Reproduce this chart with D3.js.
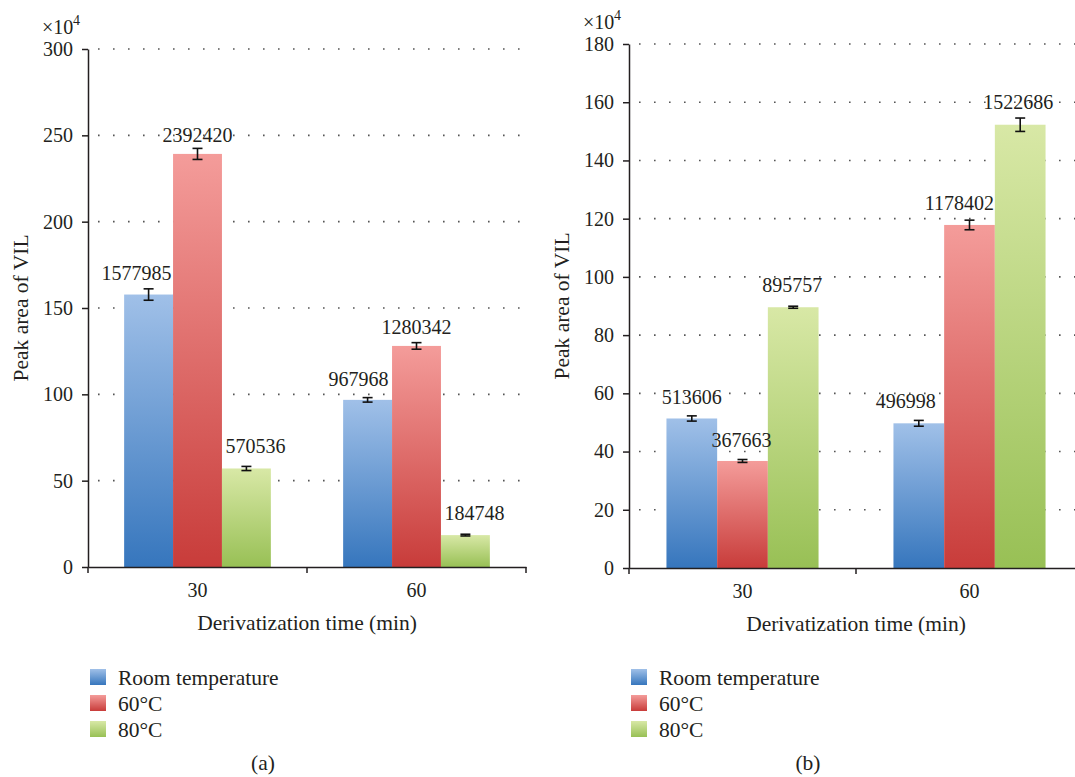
<!DOCTYPE html>
<html>
<head>
<meta charset="utf-8">
<script src="https://cdn.jsdelivr.net/npm/d3@7"></script>
<style>
  body { margin: 0; background: #fff; }
  text { font-family: "Liberation Serif", "Times New Roman", serif; fill: #231f20; }
</style>
</head>
<body>
<div id="chart"></div>
<script>
// data
const categories = ['30', '60']
const series = ['Room temperature', '60°C', '80°C']

// values per series, one entry per category
const values_a = [[1577985, 967968], [2392420, 1280342], [570536, 184748]]
const errors_a = [[33000, 13000], [32000, 19000], [12000, 5000]]
const ticks_a = [0, 50, 100, 150, 200, 250, 300]

const values_b = [[513606, 496998], [367663, 1178402], [895757, 1522686]]
const errors_b = [[9000, 10000], [5000, 16500], [3500, 23000]]
const ticks_b = [0, 20, 40, 60, 80, 100, 120, 140, 160, 180]

// label nudges (px), as placed in the original figure
const label_dx_a = [[-12, -9], [0, 0], [9, 9]]
const label_gap_a = [[9, 12], [6, 9], [13, 14]]
const label_dx_b = [[0, -13], [-1, -10], [-1, -2]]
const label_gap_b = [[12, 12], [13, 10], [14, 9]]

// constants
const width = 1075
const height = 777
const num_size = '20px'
const word_size = '21.5px'
const scale_unit = 1e4
const colors = [
    {top: '#a0c0e8', bottom: '#3676bd'},
    {top: '#f49c9a', bottom: '#c83c3a'},
    {top: '#d8e8a6', bottom: '#98c055'}
]

const svg = d3.select('#chart')
              .append('svg')
                .attr('width', width)
                .attr('height', height)

// one vertical gradient per series, stretched over each bar
const defs = svg.append('defs')
colors.forEach((c, i) => {
    const grad = defs.append('linearGradient')
                     .attr('id', 'grad' + i)
                     .attr('x1', 0).attr('y1', 0)
                     .attr('x2', 0).attr('y2', 1)
    grad.append('stop').attr('offset', '0%').attr('stop-color', c.top)
    grad.append('stop').attr('offset', '100%').attr('stop-color', c.bottom)
})

function drawPanel(opts) {
    const g = svg.append('g')
                 .attr('transform', `translate(${opts.left}, ${opts.top})`)
    const innerWidth = opts.right - opts.left
    const innerHeight = opts.bottom - opts.top

    const y = d3.scaleLinear()
                .domain([0, d3.max(opts.ticks)])
                .range([innerHeight, 0])
    const x0 = d3.scaleBand()
                 .domain(categories)
                 .range([0, innerWidth])
    const bw = x0.bandwidth()
    const x1 = d3.scaleBand()
                 .domain(d3.range(series.length))
                 .range([bw * 0.165, bw * 0.835])

    // dotted grid
    g.append('g')
        .selectAll('line')
        .data(opts.ticks.filter(t => t > 0))
        .join('line')
            .attr('x1', 4)
            .attr('x2', innerWidth)
            .attr('y1', d => y(d))
            .attr('y2', d => y(d))
            .attr('stroke', '#555')
            .attr('stroke-width', 1.6)
            .attr('stroke-dasharray', '1.6,13.4')
            .attr('stroke-dashoffset', -6)

    // flatten bars
    const bars = []
    opts.values.forEach((row, s) => {
        row.forEach((v, c) => {
            bars.push({
                s: s, c: c, value: v / scale_unit,
                err: opts.errors[s][c] / scale_unit,
                dx: opts.label_dx[s][c], gap: opts.label_gap[s][c],
                raw: v
            })
        })
    })

    g.append('g')
        .selectAll('rect')
        .data(bars)
        .join('rect')
            .attr('x', d => x0(categories[d.c]) + x1(d.s))
            .attr('y', d => y(d.value))
            .attr('width', x1.bandwidth())
            .attr('height', d => innerHeight - y(d.value))
            .attr('fill', d => `url(#grad${d.s})`)

    // error bars
    const cx = d => x0(categories[d.c]) + x1(d.s) + x1.bandwidth() / 2
    const err = g.append('g')
                 .attr('stroke', '#111')
                 .attr('stroke-width', 1.6)
    err.selectAll('line.stem')
        .data(bars)
        .join('line')
            .attr('class', 'stem')
            .attr('x1', cx).attr('x2', cx)
            .attr('y1', d => y(d.value + d.err))
            .attr('y2', d => y(d.value - d.err))
    err.selectAll('line.capTop')
        .data(bars)
        .join('line')
            .attr('class', 'capTop')
            .attr('x1', d => cx(d) - 5).attr('x2', d => cx(d) + 5)
            .attr('y1', d => y(d.value + d.err))
            .attr('y2', d => y(d.value + d.err))
    err.selectAll('line.capBottom')
        .data(bars)
        .join('line')
            .attr('class', 'capBottom')
            .attr('x1', d => cx(d) - 5).attr('x2', d => cx(d) + 5)
            .attr('y1', d => y(d.value - d.err))
            .attr('y2', d => y(d.value - d.err))

    // value labels
    g.append('g')
        .selectAll('text')
        .data(bars)
        .join('text')
            .attr('x', d => cx(d) + d.dx)
            .attr('y', d => y(d.value + d.err) - d.gap)
            .attr('text-anchor', 'middle')
            .style('font-size', num_size)
            .text(d => d.raw)

    // y axis
    const yAxis = g.append('g')
        .call(d3.axisLeft(y)
                .tickValues(opts.ticks)
                .tickSize(6)
                .tickSizeOuter(0)
                .tickPadding(9))
    yAxis.attr('font-size', null).attr('font-family', null)
    yAxis.selectAll('text').style('font-size', num_size)
    yAxis.selectAll('line, path').attr('stroke', '#231f20').attr('stroke-width', 1.5)

    // x axis
    const xAxis = g.append('g')
        .attr('transform', `translate(0, ${innerHeight})`)
        .call(d3.axisBottom(x0)
                .tickSize(0)
                .tickSizeOuter(0)
                .tickPadding(16))
    xAxis.attr('font-size', null).attr('font-family', null)
    xAxis.selectAll('text').style('font-size', num_size)
    xAxis.select('path').attr('stroke', '#231f20').attr('stroke-width', 1.5)
    xAxis.selectAll('line.boundary')
        .data(d3.range(categories.length + 1))
        .join('line')
            .attr('class', 'boundary')
            .attr('x1', i => i * x0.step())
            .attr('x2', i => i * x0.step())
            .attr('y1', 0)
            .attr('y2', 6)
            .attr('stroke', '#231f20')
            .attr('stroke-width', 1.5)

    // axis titles
    g.append('text')
        .attr('x', innerWidth / 2)
        .attr('y', innerHeight + 63)
        .attr('text-anchor', 'middle')
        .style('font-size', word_size)
        .text('Derivatization time (min)')

    g.append('text')
        .attr('transform', `translate(-60, ${innerHeight / 2}) rotate(-90)`)
        .attr('text-anchor', 'middle')
        .style('font-size', word_size)
        .text('Peak area of VIL')

    // x10^4 multiplier above the axis
    g.append('text')
        .attr('x', -46)
        .attr('y', -15)
        .style('font-size', num_size)
        .text('×10')
    g.append('text')
        .attr('x', -15)
        .attr('y', -24)
        .style('font-size', '14px')
        .text('4')

    // legend
    const legend = svg.append('g')
                      .attr('transform', `translate(${opts.left + 2}, 677)`)
    const item = legend.selectAll('g')
        .data(series)
        .join('g')
            .attr('transform', (d, i) => `translate(0, ${i * 26})`)
    item.append('rect')
        .attr('x', 0)
        .attr('y', -8)
        .attr('width', 16)
        .attr('height', 16)
        .attr('fill', (d, i) => `url(#grad${i})`)
    item.append('text')
        .attr('x', 28)
        .attr('y', 0)
        .attr('dy', '0.35em')
        .style('font-size', word_size)
        .text(d => d)

    // caption
    svg.append('text')
        .attr('x', opts.caption_x)
        .attr('y', 770)
        .attr('text-anchor', 'middle')
        .style('font-size', word_size)
        .text(opts.caption)
}

drawPanel({
    left: 88, right: 526, top: 49, bottom: 567,
    values: values_a, errors: errors_a, ticks: ticks_a,
    label_dx: label_dx_a, label_gap: label_gap_a,
    caption: '(a)', caption_x: 263
})

drawPanel({
    left: 629, right: 1083, top: 44, bottom: 568,
    values: values_b, errors: errors_b, ticks: ticks_b,
    label_dx: label_dx_b, label_gap: label_gap_b,
    caption: '(b)', caption_x: 808
})
</script>
</body>
</html>
